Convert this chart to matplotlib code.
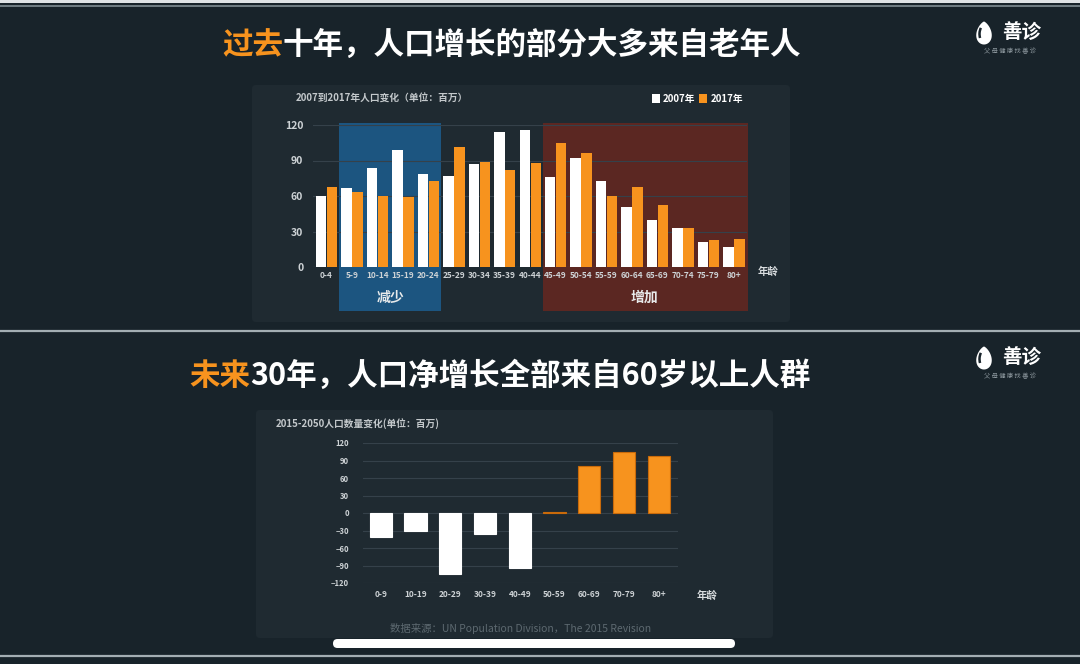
import numpy as np
import matplotlib.pyplot as plt
from matplotlib.patches import Rectangle, FancyBboxPatch, Polygon, Arc

plt.rcParams['font.family'] = ['Noto Sans CJK SC', 'DejaVu Sans']

# ---- data: 2007 vs 2017 population by age (millions)
ages_5y = ['0-4', '5-9', '10-14', '15-19', '20-24', '25-29', '30-34', '35-39', '40-44',
           '45-49', '50-54', '55-59', '60-64', '65-69', '70-74', '75-79', '80+']
pop_2007 = [60, 67, 84, 99, 79, 77, 87, 114, 116, 76, 92, 73, 51, 40, 33, 21, 17]
pop_2017 = [68, 63, 60, 59, 73, 101, 89, 82, 88, 105, 96, 60, 68, 52, 33, 23, 24]
top_yticks = [0, 30, 60, 90, 120]
decrease_groups = ['5-9', '20-24']     # first / last age group of the "减少" band
increase_groups = ['45-49', '80+']     # first / last age group of the "增加" band

# ---- data: 2015-2050 change by age (millions)
ages_10y = ['0-9', '10-19', '20-29', '30-39', '40-49', '50-59', '60-69', '70-79', '80+']
change_2050 = [-41, -30, -105, -36, -94, 1, 80, 104, 97]
bottom_yticks = [-120, -90, -60, -30, 0, 30, 60, 90, 120]

BG = '#18232a'
PANEL = '#1f2a31'
ORANGE = '#f7931e'
GRID = '#35414a'
TICK = '#cdd2d5'

W, H = 1080, 664
fig = plt.figure(figsize=(W / 100, H / 100), dpi=100)
fig.patch.set_facecolor(BG)


def px_axes(x0, y0, x1, y1):
    return fig.add_axes([x0 / W, 1 - y1 / H, (x1 - x0) / W, (y1 - y0) / H])


# background layer in pixel coordinates
bg = fig.add_axes([0, 0, 1, 1])
bg.set_xlim(0, W)
bg.set_ylim(H, 0)
bg.axis('off')
bg.set_zorder(-1)

# screenshot frame lines
bg.add_patch(Rectangle((0, 0), W, 3, color='#dfe3e5', lw=0))
bg.plot([0, W], [5.5, 5.5], color='#7f8c92', lw=1.2)
bg.plot([0, W], [331, 331], color='#a3aeb3', lw=1.6)
bg.plot([0, W], [656, 656], color='#a3aeb3', lw=1.6)

# chart panels
bg.add_patch(FancyBboxPatch((252, 85), 538, 237, boxstyle='round,pad=0,rounding_size=4',
                            fc=PANEL, ec='none'))
bg.add_patch(FancyBboxPatch((256, 410), 517, 228, boxstyle='round,pad=0,rounding_size=4',
                            fc=PANEL, ec='none'))


def two_tone_title(x, y, hi, rest):
    t = bg.text(x, y, hi, color=ORANGE, fontsize=22, fontweight='bold', ha='left', va='center')
    r = fig.canvas.get_renderer()
    w = t.get_window_extent(r).width
    bg.text(x + w, y, rest, color='white', fontsize=22, fontweight='bold', ha='left', va='center')


two_tone_title(222, 45, '过去', '十年，人口增长的部分大多来自老年人')
two_tone_title(189, 376, '未来', '30年，人口净增长全部来自60岁以上人群')


def logo(cy):
    t = np.linspace(0, 2 * np.pi, 80)
    xs = 984 + 9 * np.sin(t) * np.abs(np.sin(t / 2)) ** 0.5
    ys = cy + 1 - 11.5 * np.cos(t)
    bg.add_patch(Polygon(np.column_stack([xs, ys]), closed=True, fc='white', ec='none'))
    bg.add_patch(Arc((987, cy + 2), 15, 21, theta1=150, theta2=225, color=BG, lw=1.8))
    bg.text(1022, cy, '善诊', color='white', fontsize=14, fontweight='bold',
            ha='center', va='center')
    bg.text(1010, cy + 19, '父 母 健 康 找 善 诊', color='#8d989e', fontsize=4.5,
            ha='center', va='center')


logo(32)
logo(357)

# ---- top chart
ax1 = px_axes(313, 125, 747, 267)
ax1.set_facecolor('none')
x = np.arange(len(ages_5y))
i0, i1 = ages_5y.index(decrease_groups[0]), ages_5y.index(decrease_groups[1])
j0, j1 = ages_5y.index(increase_groups[0]), ages_5y.index(increase_groups[1])
ax1.add_patch(Rectangle((i0 - 0.5, -37), i1 - i0 + 1, 158.5, fc='#1c5580', ec='none',
                        clip_on=False, zorder=0.5))
ax1.add_patch(Rectangle((j0 - 0.5, -37), j1 - j0 + 1.04, 158.5, fc='#5b2722', ec='none',
                        clip_on=False, zorder=0.5))
ax1.text((i0 + i1) / 2, -26, '减少', color='#e8eaeb', fontsize=10, fontweight='bold',
         ha='center', va='center')
ax1.text((j0 + j1) / 2, -26, '增加', color='#e8eaeb', fontsize=10, fontweight='bold',
         ha='center', va='center')
for v in top_yticks[1:]:
    ax1.axhline(v, color=GRID, lw=0.8, zorder=1)
ax1.axhline(0, color='#6f7a80', lw=0.8, zorder=1)
b1 = ax1.bar(x - 0.21, pop_2007, width=0.41, color='white', zorder=2, label='2007年')
b2 = ax1.bar(x + 0.22, pop_2017, width=0.41, color=ORANGE, zorder=2, label='2017年')
ax1.set_xlim(-0.53, 16.52)
ax1.set_ylim(0, 120)
ax1.set_yticks(top_yticks)
ax1.set_xticks(x)
ax1.set_xticklabels(ages_5y)
ax1.tick_params(axis='y', length=0, colors=TICK, labelsize=7.5, pad=7)
ax1.tick_params(axis='x', length=0, colors=TICK, labelsize=6, pad=3)
for lab in ax1.get_xticklabels() + ax1.get_yticklabels():
    lab.set_fontweight('bold')
for s in ax1.spines.values():
    s.set_visible(False)
ax1.legend(handles=[b1, b2], loc='center right', bbox_to_anchor=(748 / W, 1 - 99 / H),
           bbox_transform=fig.transFigure, ncol=2, frameon=False,
           labelcolor='white', handlelength=0.8, handleheight=1.0, handletextpad=0.35,
           columnspacing=0.4, borderpad=0, prop={'weight': 'bold', 'size': 7})
bg.text(296, 99, '2007到2017年人口变化（单位：百万）', color='#c3c8cb', fontsize=7,
        fontweight='bold', ha='left', va='center')
bg.text(768, 272, '年龄', color='#d8dcde', fontsize=7.5, fontweight='bold',
        ha='center', va='center')

# ---- bottom chart
ax2 = px_axes(363, 443, 678, 583)
ax2.set_facecolor('none')
x2 = np.arange(len(ages_10y))
for v in bottom_yticks:
    ax2.axhline(v, color=GRID, lw=0.8, zorder=1)
cols = [ORANGE if v > 0 else 'white' for v in change_2050]
edges = ['#c96a0a' if v > 0 else 'white' for v in change_2050]
ax2.bar(x2, change_2050, width=0.64, color=cols, edgecolor=edges, lw=0.8, zorder=2)
ax2.set_xlim(-0.51, 8.555)
ax2.set_ylim(-120, 120)
ax2.set_yticks(bottom_yticks)
ax2.set_xticks(x2)
ax2.set_xticklabels(ages_10y)
ax2.tick_params(axis='y', length=0, colors=TICK, labelsize=5.5, pad=10)
ax2.tick_params(axis='x', length=0, colors=TICK, labelsize=6, pad=5)
for lab in ax2.get_xticklabels() + ax2.get_yticklabels():
    lab.set_fontweight('bold')
for s in ax2.spines.values():
    s.set_visible(False)
bg.text(276, 424, '2015-2050人口数量变化(单位：百万)', color='#c3c8cb', fontsize=7,
        fontweight='bold', ha='left', va='center')
bg.text(707, 596, '年龄', color='#d8dcde', fontsize=7.5, fontweight='bold',
        ha='center', va='center')
bg.text(521, 628, '数据来源：UN Population Division，The 2015 Revision', color='#5d6970',
        fontsize=7.5, ha='center', va='center')

# phone home indicator
bg.add_patch(FancyBboxPatch((333, 639), 402, 9, boxstyle='round,pad=0,rounding_size=4.5',
                            fc='white', ec='none'))

fig.savefig('out.png', dpi=100, facecolor=BG)
